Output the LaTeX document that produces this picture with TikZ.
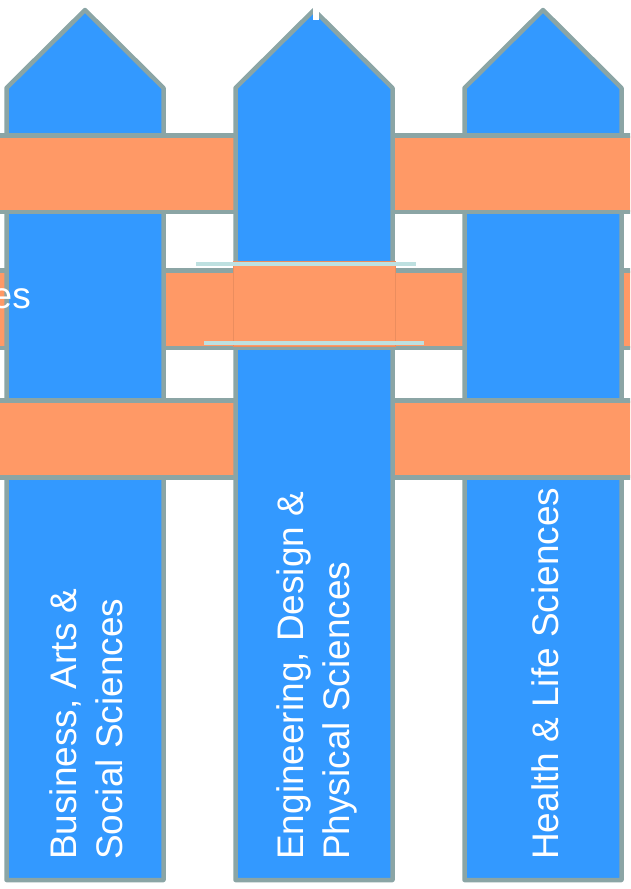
\documentclass[tikz,border=0pt]{standalone}
\usepackage{fontspec}
\setmainfont{Liberation Sans}
\usepackage{xcolor}
\usepackage{tikz}
\definecolor{pblue}{HTML}{3399FF}
\definecolor{rorange}{HTML}{FF9966}
\definecolor{edge}{HTML}{8BA5A5}
\definecolor{seamc}{HTML}{BEE0E0}
\newcommand{\picketshape}[1]{(#1-78.5,880) -- (#1-78.5,88) -- (#1,10) -- (#1+78.5,88) -- (#1+78.5,880) -- cycle}
\tikzset{
  picket/.style = {fill=pblue, draw=edge, line width=4.5pt, line join=round},
  rail/.style   = {fill=rorange, draw=edge, line width=4.5pt},
  patch/.style  = {fill=rorange, draw=rorange!92!black, line width=0.6pt},
  seam/.style   = {draw=seamc, line width=3.5pt},
  plbl/.style   = {text=white, rotate=90, anchor=west, align=left, inner sep=0pt,
                   font=\fontsize{37}{46}\selectfont},
}

\begin{document}
\begin{tikzpicture}[x=1pt, y=-1pt]
  \useasboundingbox (0,0) rectangle (630,889);
  \clip (0,0) rectangle (630,889);
  % middle rail sits behind the outer pickets
  \draw[rail] (-20,270.5) rectangle (650,348);
  \draw[picket] \picketshape{85};
  \draw[picket] \picketshape{543};
  % top and bottom rails
  \draw[rail] (-20,135.5) rectangle (650,212);
  \draw[rail] (-20,400.5) rectangle (650,477.5);
  % centre picket goes over them
  \draw[picket] \picketshape{314};
  \begin{scope}
    \clip (233,0) rectangle (395,889);
    \draw[rail] (-20,270.5) rectangle (650,348);
  \end{scope}
  \draw[patch] (233,261) rectangle (395,346);
  \draw[seam] (196,264) -- (416,264);
  \draw[seam] (204,343) -- (424,343);
  \fill[white] (313,7) rectangle (319,20);
  % labels
  \node[text=white, anchor=base east, inner sep=0pt,
        font=\fontsize{37}{46}\selectfont] (cut) at (31,308) {es};
  \node[plbl] (bas) at (86,860) {Business, Arts \&\\Social Sciences};
  \node[plbl] (edp) at (317,860) {Engineering, Design \&\\Physical Sciences};
  \node[plbl] (hls) at (545,860) {Health \& Life Sciences};
\end{tikzpicture}
\end{document}
